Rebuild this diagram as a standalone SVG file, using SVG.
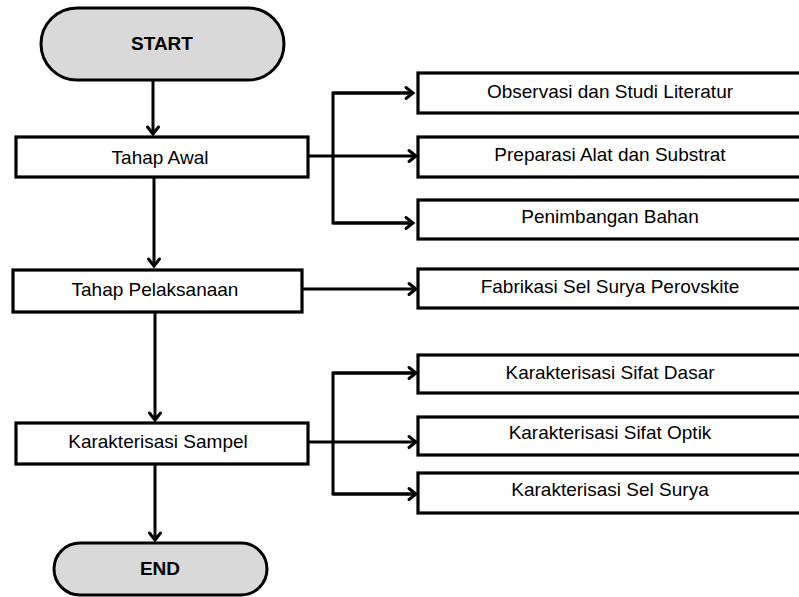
<svg xmlns="http://www.w3.org/2000/svg" width="799" height="597" viewBox="0 0 799 597">
<style>
.box{fill:#ffffff;stroke:#000000;stroke-width:3.2}
.term{fill:#d9d9d9;stroke:#000000;stroke-width:3}
.t{font-family:"Liberation Sans",Arial,sans-serif;font-size:19px;fill:#000000;text-anchor:middle}
.tb{font-weight:bold}
.c{fill:none;stroke:#000000;stroke-width:3}
.ca{fill:none;stroke:#000000;stroke-width:3;marker-end:url(#arr)}
</style>
<defs>
<marker id="arr" markerUnits="userSpaceOnUse" markerWidth="14" markerHeight="16" refX="11" refY="7" orient="auto" viewBox="0 0 14 14">
<path d="M4,1.5 L11,7 L4,12.5" fill="none" stroke="#000000" stroke-width="3" stroke-linecap="round" stroke-linejoin="miter"/>
</marker>
</defs>
<rect width="799" height="597" fill="#ffffff"/>
<g id="connectors">
<line class="ca" x1="153" y1="80" x2="153" y2="134"/>
<line class="ca" x1="154" y1="177" x2="154" y2="266"/>
<line class="ca" x1="155" y1="312" x2="155" y2="420"/>
<line class="ca" x1="155" y1="464" x2="155" y2="540"/>
<line class="c" x1="308" y1="156" x2="333" y2="156"/>
<polyline class="c" points="412,93 333,93 333,223 412,223"/>
<line class="ca" x1="333" y1="93" x2="413" y2="93"/>
<line class="ca" x1="333" y1="156" x2="416" y2="156"/>
<line class="ca" x1="333" y1="223" x2="413" y2="223"/>
<line class="ca" x1="302" y1="289" x2="416" y2="289"/>
<line class="c" x1="308" y1="442" x2="333" y2="442"/>
<polyline class="c" points="412,373 333,373 333,494 412,494"/>
<line class="ca" x1="333" y1="373" x2="416" y2="373"/>
<line class="ca" x1="333" y1="442" x2="416" y2="442"/>
<line class="ca" x1="333" y1="494" x2="416" y2="494"/>
</g>
<g id="start">
<rect class="term" x="41" y="8" width="243" height="72" rx="36" ry="36"/>
<text class="t tb" x="162" y="50">START</text>
</g>
<g id="tahap-awal">
<rect class="box" x="16" y="137" width="292" height="40"/>
<text class="t" x="160" y="164">Tahap Awal</text>
</g>
<g id="tahap-pelaksanaan">
<rect class="box" x="13" y="270" width="289" height="42"/>
<text class="t" x="155" y="296">Tahap Pelaksanaan</text>
</g>
<g id="karakterisasi-sampel">
<rect class="box" x="16" y="423" width="292" height="41"/>
<text class="t" x="158" y="448">Karakterisasi Sampel</text>
</g>
<g id="end">
<rect class="term" x="54" y="543" width="213" height="52" rx="26" ry="26"/>
<text class="t tb" x="160" y="575">END</text>
</g>
<g id="observasi">
<rect class="box" x="418" y="73" width="390" height="40"/>
<text class="t" x="610" y="98">Observasi dan Studi Literatur</text>
</g>
<g id="preparasi">
<rect class="box" x="418" y="137" width="390" height="40"/>
<text class="t" x="610" y="161">Preparasi Alat dan Substrat</text>
</g>
<g id="penimbangan">
<rect class="box" x="418" y="200" width="390" height="39"/>
<text class="t" x="610" y="223">Penimbangan Bahan</text>
</g>
<g id="fabrikasi">
<rect class="box" x="418" y="269" width="390" height="39"/>
<text class="t" x="610" y="293">Fabrikasi Sel Surya Perovskite</text>
</g>
<g id="sifat-dasar">
<rect class="box" x="418" y="355" width="390" height="38"/>
<text class="t" x="610" y="379">Karakterisasi Sifat Dasar</text>
</g>
<g id="sifat-optik">
<rect class="box" x="418" y="417" width="390" height="38"/>
<text class="t" x="610" y="439">Karakterisasi Sifat Optik</text>
</g>
<g id="sel-surya">
<rect class="box" x="418" y="473" width="390" height="40"/>
<text class="t" x="610" y="496">Karakterisasi Sel Surya</text>
</g>
</svg>
